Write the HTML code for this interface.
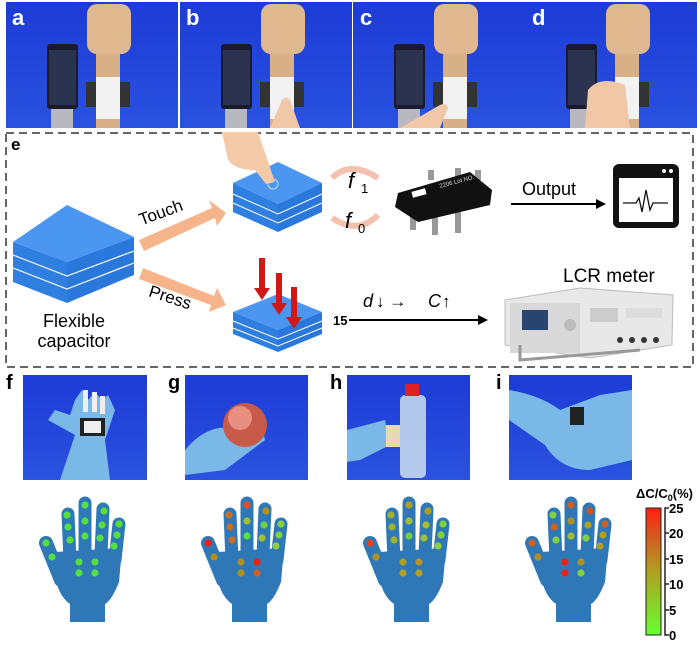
<!DOCTYPE html>
<html><head><meta charset="utf-8"><style>
body{margin:0;background:#fff;width:700px;height:648px;overflow:hidden}
svg{display:block}
text{font-family:"Liberation Sans",sans-serif}
</style></head><body>
<svg width="700" height="648" viewBox="0 0 700 648" xmlns="http://www.w3.org/2000/svg">
<defs>
<linearGradient id="bg" x1="0" y1="0" x2="0" y2="1"><stop offset="0" stop-color="#1d3bd6"/><stop offset="1" stop-color="#2a52e0"/></linearGradient>
<linearGradient id="cb" x1="0" y1="1" x2="0" y2="0"><stop offset="0" stop-color="#66ff33"/><stop offset="0.5" stop-color="#b0a020"/><stop offset="0.75" stop-color="#d06020"/><stop offset="1" stop-color="#ff2010"/></linearGradient>
<g id="photoA">
<rect width="172" height="126" fill="url(#bg)"/>
<rect x="41" y="42" width="31" height="65" rx="3" fill="#1a1a2e"/>
<rect x="43" y="48" width="27" height="55" fill="#2b3350"/>
<rect x="45" y="107" width="22" height="19" fill="#b8b8c0"/>
<rect x="90" y="48" width="24" height="78" fill="#d8b088"/>
<rect x="81" y="2" width="44" height="50" rx="10" fill="#e0b890"/>
<rect x="90" y="75" width="24" height="42" fill="#f2f2f2"/>
<rect x="80" y="80" width="10" height="25" fill="#333"/>
<rect x="114" y="80" width="10" height="25" fill="#333"/>
</g>
<g id="hand">
<g stroke="#2f78b8" stroke-linecap="round" fill="none">
<line x1="7" y1="543" x2="22" y2="580" stroke-width="14"/>
<line x1="29" y1="514" x2="31" y2="560" stroke-width="13"/>
<line x1="46" y1="503" x2="46" y2="555" stroke-width="13"/>
<line x1="64" y1="509" x2="62" y2="555" stroke-width="13"/>
<line x1="80" y1="524" x2="76" y2="560" stroke-width="13"/>
</g>
<path d="M16,552 L83,548 L80,582 Q73,600 66,604 L66,622 L31,622 L31,604 Q20,596 17,580 Z" fill="#2f78b8"/>
</g>
</defs>

<!-- top photos -->
<use href="#photoA" x="6" y="2"/>
<use href="#photoA" x="180" y="2"/>
<use href="#photoA" x="353" y="2"/>
<use href="#photoA" x="525" y="2"/>
<path d="M270,128 L282,100 Q286,95 290,100 L300,128 Z" fill="#f0c8a8"/>
<path d="M400,128 L440,105 Q446,102 448,108 L440,128 Z" fill="#f0c8a8"/>
<path d="M585,128 L588,90 Q600,75 625,85 L630,128 Z" fill="#f0c8a8"/>
<g fill="#fff" font-weight="bold" font-size="22">
<text x="12" y="25">a</text><text x="186" y="25">b</text><text x="360" y="25">c</text><text x="532" y="25">d</text>
</g>

<!-- panel e -->
<rect x="6" y="133" width="687" height="234" fill="none" stroke="#333" stroke-width="1.5" stroke-dasharray="8,5"/>
<text x="11" y="150" font-size="17" font-weight="bold">e</text>

<!-- big block -->
<polygon points="67,205 134,237 67,262 13,242" fill="#4a96f0"/>
<polygon points="13,242 67,262 67,303 13,282" fill="#2f7fe0"/>
<polygon points="67,262 134,237 134,275 67,303" fill="#2a78dc"/>
<g stroke="#fff" stroke-width="1.2" fill="none">
<polyline points="13,255 67,276 134,251"/><polyline points="13,268 67,289 134,263"/>
</g>
<text x="74" y="327" font-size="18" text-anchor="middle">Flexible</text>
<text x="74" y="347" font-size="18" text-anchor="middle">capacitor</text>
<!-- orange arrows -->
<g fill="#f5b48a">
<polygon points="139,240 212,208 209,200 226,213 217,226 215,218 144,251"/>
<polygon points="143,268 214,296 217,288 226,305 209,312 211,305 139,279"/>
</g>
<text x="161" y="218" font-size="17" text-anchor="middle" transform="rotate(-20 161 213)">Touch</text>
<text x="170" y="303" font-size="17" text-anchor="middle" transform="rotate(18 170 298)">Press</text>

<!-- top small block -->
<polygon points="278,162 322,183 278,204 233,183" fill="#4a96f0"/>
<polygon points="233,183 278,204 278,232 233,212" fill="#2f7fe0"/>
<polygon points="278,204 322,183 322,212 278,232" fill="#2a78dc"/>
<g stroke="#fff" stroke-width="1" fill="none"><polyline points="233,194 278,214 322,194"/><polyline points="233,203 278,223 322,203"/></g>
<circle cx="273" cy="184" r="5" fill="none" stroke="#cde" stroke-width="1"/>
<path d="M222,132 L258,132 L275,182 L266,184 L255,170 Q235,170 228,160 Z" fill="#f3c9a8"/>
<!-- bottom small block -->
<polygon points="278,294 322,312 278,330 233,312" fill="#4a96f0"/>
<polygon points="233,312 278,330 278,352 233,334" fill="#2f7fe0"/>
<polygon points="278,330 322,312 322,334 278,352" fill="#2a78dc"/>
<g stroke="#fff" stroke-width="1" fill="none"><polyline points="233,321 278,339 322,321"/><polyline points="233,328 278,346 322,328"/></g>
<g fill="#d01818">
<rect x="259" y="258" width="6" height="32"/><polygon points="254,288 270,288 262,300"/>
<rect x="276" y="273" width="6" height="32"/><polygon points="271,303 287,303 279,315"/>
<rect x="291" y="287" width="6" height="32"/><polygon points="286,317 302,317 294,329"/>
</g>
<!-- f1 f0 -->
<path d="M332,178 Q350,160 378,178" fill="none" stroke="#f4c0b0" stroke-width="6"/>
<path d="M378,215 Q358,235 332,218" fill="none" stroke="#f4c0b0" stroke-width="6"/>
<text x="348" y="188" font-family="Liberation Serif,serif" font-style="italic" font-size="22">f</text><text x="361" y="193" font-family="Liberation Serif,serif" font-size="13">1</text>
<text x="345" y="228" font-family="Liberation Serif,serif" font-style="italic" font-size="22">f</text><text x="358" y="233" font-family="Liberation Serif,serif" font-size="13">0</text>
<!-- chip -->
<g fill="#999"><rect x="410" y="200" width="6" height="30"/><rect x="432" y="205" width="6" height="30"/><rect x="455" y="205" width="6" height="28"/><rect x="428" y="170" width="6" height="10"/><rect x="455" y="168" width="6" height="10"/><rect x="475" y="170" width="6" height="10"/></g>
<polygon points="398,193 470,172 492,190 490,205 418,222 395,207" fill="#111"/>
<rect x="412" y="190" width="14" height="6" fill="#fff" transform="rotate(-15 419 193)"/>
<text x="440" y="188" fill="#ddd" font-size="6" transform="rotate(-15 440 188)">2206 Lot NO.</text>
<!-- output -->
<text x="522" y="195" font-size="18">Output</text>
<line x1="511" y1="204" x2="598" y2="204" stroke="#000" stroke-width="2"/>
<polygon points="596,199 606,204 596,209" fill="#000"/>
<rect x="613" y="164" width="66" height="64" rx="6" fill="#111"/>
<rect x="619" y="178" width="54" height="44" fill="#fff"/>
<circle cx="664" cy="171" r="2" fill="#fff"/><circle cx="671" cy="171" r="2" fill="#fff"/>
<polyline points="623,203 636,203 639,198 642,212 646,190 650,210 653,203 668,203" fill="none" stroke="#111" stroke-width="1.3"/>
<!-- LCR -->
<text x="563" y="282" font-size="19">LCR meter</text>
<text x="363" y="307" font-family="Liberation Serif,serif" font-style="italic" font-size="18">d</text>
<text x="376" y="307" font-size="17">↓  → </text>
<text x="428" y="307" font-family="Liberation Serif,serif" font-style="italic" font-size="18">C</text>
<text x="442" y="307" font-size="17">↑</text>
<text x="333" y="325" font-size="13" font-weight="bold">15</text>
<line x1="349" y1="320" x2="480" y2="320" stroke="#000" stroke-width="2"/>
<polygon points="478,315 488,320 478,325" fill="#000"/>
<polygon points="505,300 580,288 673,295 672,345 590,358 505,345" fill="#e8e8e8" stroke="#bbb"/>
<rect x="510" y="303" width="70" height="50" fill="#d8d8d8"/>
<rect x="522" y="310" width="26" height="20" fill="#2a4470"/>
<circle cx="570" cy="325" r="6" fill="#bbb"/>
<rect x="590" y="308" width="28" height="14" fill="#ccc"/><rect x="626" y="308" width="36" height="10" fill="#ddd"/>
<circle cx="620" cy="340" r="3" fill="#333"/><circle cx="632" cy="340" r="3" fill="#333"/><circle cx="644" cy="340" r="3" fill="#333"/><circle cx="656" cy="340" r="3" fill="#333"/>
<path d="M520,345 L520,360 L640,350" fill="none" stroke="#999" stroke-width="3"/>

<!-- bottom photos -->
<g font-weight="bold" font-size="20">
<text x="6" y="389">f</text><text x="168" y="389">g</text><text x="330" y="389">h</text><text x="496" y="389">i</text>
</g>
<rect x="23" y="375" width="124" height="105" fill="url(#bg)"/>
<rect x="185" y="375" width="123" height="105" fill="url(#bg)"/>
<rect x="347" y="375" width="123" height="105" fill="url(#bg)"/>
<rect x="509" y="375" width="123" height="105" fill="url(#bg)"/>
<!-- f glove -->
<path d="M60,480 L75,435 L48,420 L55,410 L70,415 L75,400 L82,390 L88,400 L95,392 L102,400 L108,395 L115,410 L105,440 L110,480 Z" fill="#7ab8e8"/>
<rect x="80" y="418" width="25" height="18" fill="#222"/><rect x="84" y="421" width="17" height="12" fill="#eee"/>
<rect x="83" y="390" width="5" height="22" fill="#eee"/><rect x="92" y="392" width="5" height="20" fill="#eee"/><rect x="100" y="396" width="5" height="18" fill="#eee"/>
<!-- g -->
<path d="M185,450 Q210,420 240,430 L260,420 L265,440 L225,470 L185,475 Z" fill="#7ab8e8"/>
<circle cx="245" cy="425" r="22" fill="#c85a4a"/><circle cx="240" cy="418" r="12" fill="#e89080"/>
<!-- h -->
<path d="M347,430 L385,420 L390,445 L360,460 L347,462 Z" fill="#7ab8e8"/>
<rect x="400" y="395" width="26" height="83" rx="5" fill="#d8e8f0" opacity="0.8"/>
<rect x="405" y="384" width="14" height="12" fill="#e02020"/>
<rect x="386" y="425" width="14" height="22" fill="#e8d8b8"/>
<!-- i -->
<path d="M509,390 Q540,395 560,410 L600,395 L632,390 L632,460 L590,470 Q560,470 545,445 L509,420 Z" fill="#7ab8e8"/>
<rect x="570" y="407" width="14" height="18" fill="#222"/>

<!-- hands -->
<use href="#hand" x="39"/><use href="#hand" x="201"/><use href="#hand" x="363"/><use href="#hand" x="525"/>
<g id="dots"></g>
<g>
<!-- f -->
<g transform="translate(39,0)" fill="#55e040">
<circle cx="7" cy="543" r="3.6"/><circle cx="13" cy="557" r="3.6"/>
<circle cx="28" cy="515" r="3.6"/><circle cx="29" cy="527" r="3.6"/><circle cx="31" cy="540" r="3.6"/>
<circle cx="46" cy="505" r="3.6"/><circle cx="46" cy="521" r="3.6"/><circle cx="46" cy="536" r="3.6"/>
<circle cx="65" cy="511" r="3.6"/><circle cx="63" cy="525" r="3.6"/><circle cx="61" cy="538" r="3.6"/>
<circle cx="80" cy="524" r="3.6"/><circle cx="78" cy="535" r="3.6"/><circle cx="75" cy="546" r="3.6"/>
<circle cx="40" cy="562" r="3.6"/><circle cx="56" cy="562" r="3.6"/><circle cx="40" cy="573" r="3.6"/><circle cx="56" cy="573" r="3.6"/>
</g>
<!-- g -->
<g transform="translate(201,0)">
<circle cx="7" cy="543" r="3.6" fill="#f02010"/><circle cx="13" cy="557" r="3.6" fill="#b09020"/>
<circle cx="28" cy="515" r="3.6" fill="#c87020"/><circle cx="29" cy="527" r="3.6" fill="#c87020"/><circle cx="31" cy="540" r="3.6" fill="#c87020"/>
<circle cx="46" cy="505" r="3.6" fill="#e05020"/><circle cx="46" cy="521" r="3.6" fill="#a0c030"/><circle cx="46" cy="536" r="3.6" fill="#60e040"/>
<circle cx="65" cy="511" r="3.6" fill="#b09020"/><circle cx="63" cy="525" r="3.6" fill="#70d040"/><circle cx="61" cy="538" r="3.6" fill="#a0c030"/>
<circle cx="80" cy="524" r="3.6" fill="#80d040"/><circle cx="78" cy="535" r="3.6" fill="#80d040"/><circle cx="75" cy="546" r="3.6" fill="#90d040"/>
<circle cx="40" cy="562" r="3.6" fill="#b09020"/><circle cx="56" cy="562" r="3.6" fill="#f02010"/><circle cx="40" cy="573" r="3.6" fill="#b09020"/><circle cx="56" cy="573" r="3.6" fill="#d06020"/>
</g>
<!-- h -->
<g transform="translate(363,0)">
<circle cx="7" cy="543" r="3.6" fill="#e04020"/><circle cx="13" cy="557" r="3.6" fill="#b09020"/>
<circle cx="28" cy="515" r="3.6" fill="#a0b030"/><circle cx="29" cy="527" r="3.6" fill="#a0b030"/><circle cx="31" cy="540" r="3.6" fill="#a0b030"/>
<circle cx="46" cy="505" r="3.6" fill="#b0a020"/><circle cx="46" cy="521" r="3.6" fill="#a0c030"/><circle cx="46" cy="536" r="3.6" fill="#70d040"/>
<circle cx="65" cy="511" r="3.6" fill="#b0a020"/><circle cx="63" cy="525" r="3.6" fill="#a0c030"/><circle cx="61" cy="538" r="3.6" fill="#a0c030"/>
<circle cx="80" cy="524" r="3.6" fill="#80d040"/><circle cx="78" cy="535" r="3.6" fill="#80d040"/><circle cx="75" cy="546" r="3.6" fill="#90d040"/>
<circle cx="40" cy="562" r="3.6" fill="#b0a020"/><circle cx="56" cy="562" r="3.6" fill="#c09020"/><circle cx="40" cy="573" r="3.6" fill="#b0a020"/><circle cx="56" cy="573" r="3.6" fill="#b0a020"/>
</g>
<!-- i -->
<g transform="translate(525,0)">
<circle cx="7" cy="543" r="3.6" fill="#d06020"/><circle cx="13" cy="557" r="3.6" fill="#b09020"/>
<circle cx="28" cy="515" r="3.6" fill="#80d040"/><circle cx="29" cy="527" r="3.6" fill="#d06020"/><circle cx="31" cy="540" r="3.6" fill="#80d040"/>
<circle cx="46" cy="505" r="3.6" fill="#d06020"/><circle cx="46" cy="521" r="3.6" fill="#b09020"/><circle cx="46" cy="536" r="3.6" fill="#a0c030"/>
<circle cx="65" cy="511" r="3.6" fill="#d05020"/><circle cx="63" cy="525" r="3.6" fill="#b0a020"/><circle cx="61" cy="538" r="3.6" fill="#80d040"/>
<circle cx="80" cy="524" r="3.6" fill="#d06020"/><circle cx="78" cy="535" r="3.6" fill="#b0a020"/><circle cx="75" cy="546" r="3.6" fill="#b0a020"/>
<circle cx="40" cy="562" r="3.6" fill="#f02010"/><circle cx="56" cy="562" r="3.6" fill="#b09020"/><circle cx="40" cy="573" r="3.6" fill="#f02010"/><circle cx="56" cy="573" r="3.6" fill="#80d040"/>
</g>
</g>

<!-- colorbar -->
<text x="636" y="498" font-size="13" font-weight="bold">ΔC/C<tspan font-size="9" dy="3">0</tspan><tspan dy="-3">(%)</tspan></text>
<rect x="646" y="508" width="15" height="127" fill="url(#cb)" stroke="#222" stroke-width="1"/>
<polyline points="669,508 665,508 665,635 669,635" fill="none" stroke="#222" stroke-width="1.5"/>
<g stroke="#222" stroke-width="1.5"><line x1="665" y1="533" x2="669" y2="533"/><line x1="665" y1="559" x2="669" y2="559"/><line x1="665" y1="584" x2="669" y2="584"/><line x1="665" y1="610" x2="669" y2="610"/></g>
<g font-size="13" font-weight="bold">
<text x="669" y="513">25</text><text x="669" y="538">20</text><text x="669" y="564">15</text><text x="669" y="589">10</text><text x="669" y="615">5</text><text x="669" y="640">0</text>
</g>
</svg>
</body></html>
